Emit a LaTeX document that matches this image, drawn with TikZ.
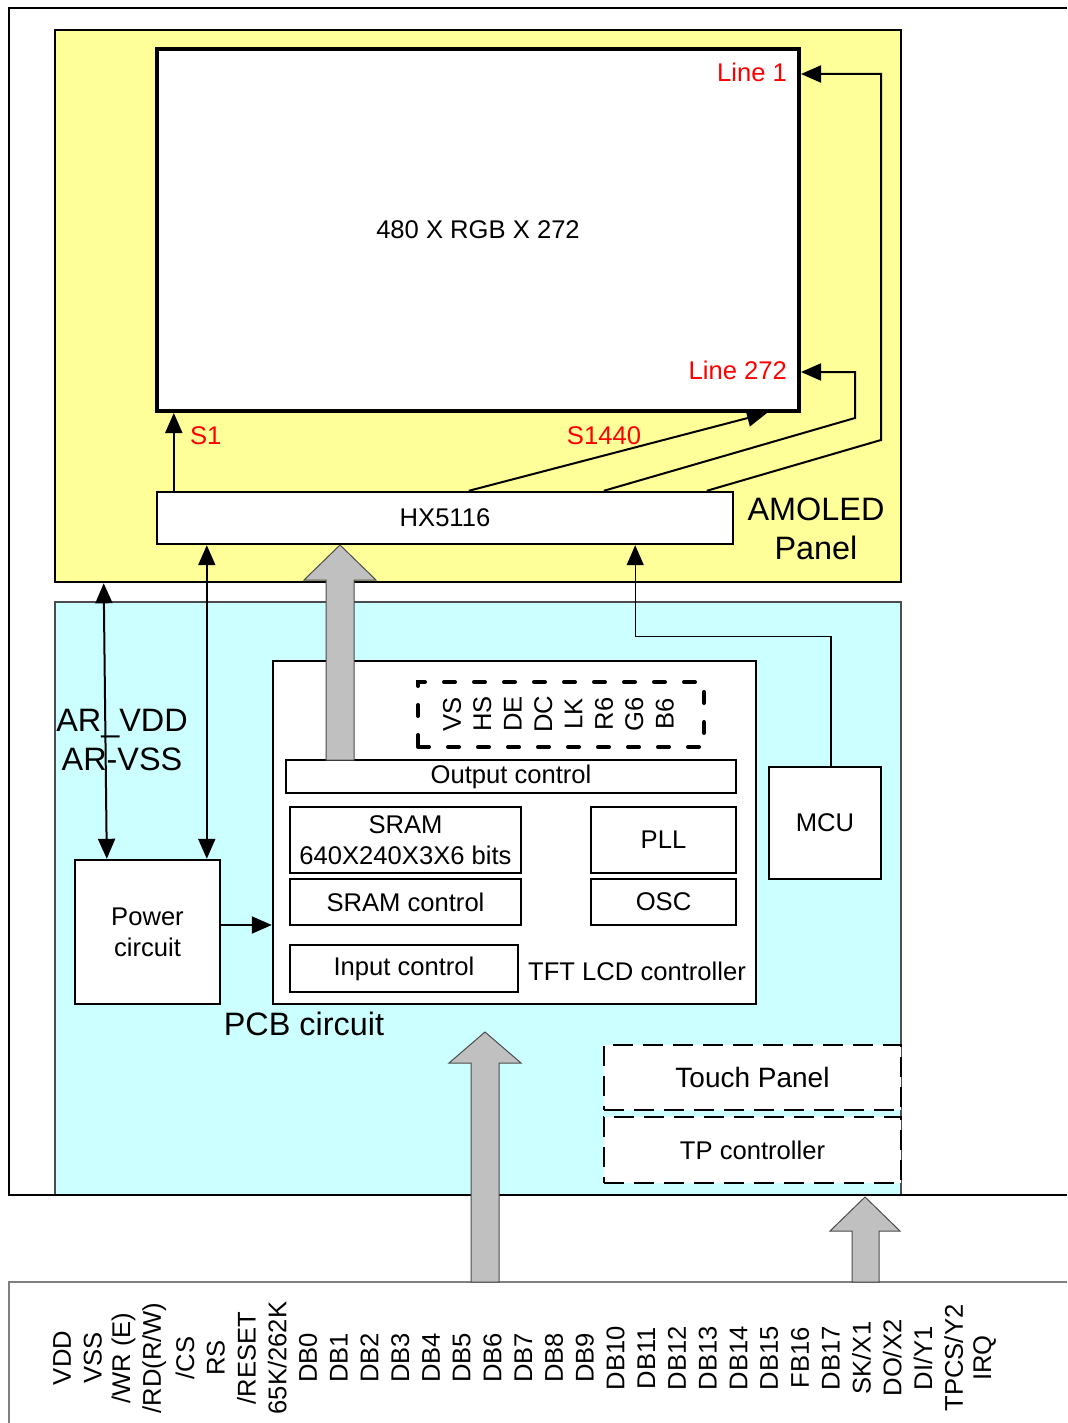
\documentclass[tikz,border=0pt]{standalone}
\usepackage{fontspec}
\setmainfont{Liberation Sans}
\usetikzlibrary{arrows.meta}
\definecolor{panelyellow}{HTML}{FFFF99}
\definecolor{pcbcyan}{HTML}{CCFFFF}
\definecolor{busgray}{HTML}{C0C0C0}

\begin{document}
\begin{tikzpicture}[x=.5pt,y=-.5pt,>={Triangle[length=10pt,width=8.5pt]},
  font=\fontsize{12.8}{15.5}\selectfont,
  box/.style={draw,line width=1.2pt,fill=white,inner sep=0pt,align=center},
  dashbox/.style={draw,line width=1.3pt,dash pattern=on 10pt off 5pt,fill=white,inner sep=0pt},
  sig/.style={->,line width=1pt},
  bus/.style={draw=black!70,line width=.5pt,fill=busgray},
  big/.style={font=\fontsize{16.2}{19.5}\selectfont,align=center},
  redlbl/.style={text=red}]
  \useasboundingbox (0,0) rectangle (1067,1423);

  % AMOLED panel
  \node[draw,line width=1.3pt,fill=panelyellow,minimum width=423pt,minimum height=276pt] (amoled) at (478,306) {};
  \node[draw,line width=2pt,fill=white,minimum width=321pt,minimum height=181pt] (disp) at (478,230) {480 X RGB X 272};
  \node[redlbl,anchor=east] (l1) at (794,72) {Line 1};
  \node[redlbl,anchor=east] (l272) at (794,370) {Line 272};
  \node[redlbl,anchor=west] (s1) at (183,436) {S1};
  \node[redlbl] (s1440) at (604,436) {S1440};
  \node[box,minimum width=288pt,minimum height=26pt] (hx) at (445,518) {HX5116};
  \node[big] (amlbl) at (816,529) {AMOLED\\Panel};

  % PCB circuit
  \node[draw=black!70,line width=.6pt,fill=pcbcyan,minimum width=423pt,minimum height=296.5pt] (pcb) at (478,898.5) {};
  \draw[line width=1.1pt] (1067,8) -| (9,1195) -- (1067,1195);
  \node[box,minimum width=72.5pt,minimum height=72pt] (pwr) at (147.5,932) {Power\\circuit};
  \node[box,minimum width=241.5pt,minimum height=171.5pt] (tft) at (514.5,832.5) {};
  \node (tftlbl) at (637,971) {TFT LCD controller};
  \node[draw,line width=2pt,dash pattern=on 5.5pt off 9.5pt,line cap=round,minimum width=143pt,minimum height=32.5pt] (tm) at (561,714.5) {};
  \foreach \s [count=\i from 0] in {VS,HS,DE,DC,LK,R6,G6,B6}
    \node[rotate=90] (tm\i) at (452+30.4*\i,714) {\s};
  \node[box,minimum width=225pt,minimum height=16.5pt] (outc) at (511,776.5) {Output control};
  \node[box,minimum width=115.5pt,minimum height=33pt] (sram) at (405.5,840) {SRAM\\640X240X3X6 bits};
  \node[box,minimum width=115.5pt,minimum height=23pt] (sramc) at (405.5,902) {SRAM control};
  \node[box,minimum width=72.5pt,minimum height=33pt] (pll) at (663.5,840) {PLL};
  \node[box,minimum width=72.5pt,minimum height=23pt] (osc) at (663.5,902) {OSC};
  \node[box,minimum width=114pt,minimum height=23.5pt] (inp) at (404,968.5) {Input control};
  \node[big] (pcblbl) at (304,1024) {PCB circuit};
  \node[box,line width=.7pt,minimum width=56pt,minimum height=56pt] (mcu) at (825,823) {MCU};
  \node[dashbox,minimum width=148.5pt,minimum height=32.5pt,font=\fontsize{14}{16}\selectfont] (tp) at (752.5,1077.5) {Touch Panel};
  \node[dashbox,minimum width=148.5pt,minimum height=33pt] (tpc) at (752.5,1150) {TP controller};

  % signal lines
  \draw[sig] ([xshift=9pt]hx.north west) -- ([xshift=9pt]hx.north west |- disp.south);
  \draw[sig] ([xshift=156.5pt]hx.north west) -- ([xshift=-17pt]disp.south east);
  \draw[sig] ([xshift=224pt]hx.north west) -- (855,418) |- ([yshift=-71pt]disp.east);
  \draw[sig] ([xshift=275.5pt]hx.north west) -- (881,440) |- ([yshift=78pt]disp.east);
  \draw[<->,line width=1pt] ([xshift=25pt]amoled.south west) -- ([xshift=16.5pt]pwr.north west);
  \draw[<->,line width=1pt] ([xshift=25.5pt]hx.south west) -- ([xshift=25.5pt]hx.south west |- pwr.north);
  \node[big] (arlbl) at (122,740) {AR\_VDD\\AR-VSS};
  \draw[sig] ([yshift=3.5pt]pwr.east) -- ([yshift=3.5pt]pwr.east -| tft.west);
  \draw[->,line width=.7pt] ([xshift=3pt]mcu.north) |- ([xshift=-49.5pt,yshift=-45.5pt]hx.south east) -- ([xshift=-49.5pt]hx.south east);

  % connector pins
  \draw[gray,line width=.8pt] (9,1423) |- (1067,1282);
  \foreach \p [count=\i from 0] in {VDD,VSS,/WR (E),/RD(R/W),/CS,RS,/RESET,65K/262K,DB0,DB1,DB2,DB3,DB4,DB5,DB6,DB7,DB8,DB9,DB10,DB11,DB12,DB13,DB14,DB15,FB16,DB17,SK/X1,DO/X2,DI/Y1,TPCS/Y2,IRQ}
    \node[rotate=90] (pin\i) at (62+30.75*\i,1358) {\p};

  % bus arrows
  \draw[bus] (326,760) -- (326,580) -- (304,580) -- (340,545) -- (376,580) -- (354,580) -- (354,760) -- cycle;
  \draw[bus] (471,1282) -- (471,1063) -- (449,1063) -- (485,1032) -- (521,1063) -- (499,1063) -- (499,1282) -- cycle;
  \draw[bus] (852,1282) -- (852,1231) -- (830,1231) -- (865,1197) -- (900,1231) -- (879,1231) -- (879,1282) -- cycle;
\end{tikzpicture}
\end{document}
